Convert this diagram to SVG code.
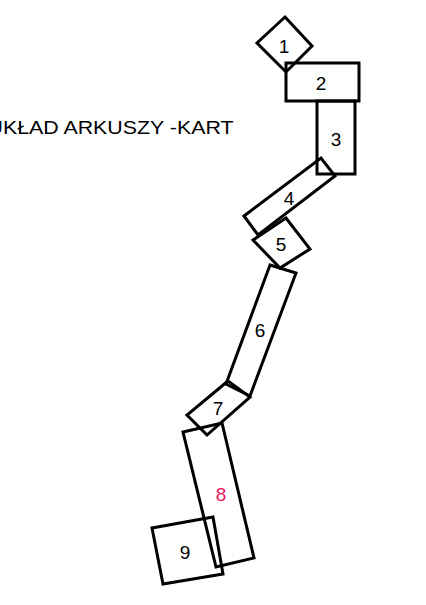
<svg xmlns="http://www.w3.org/2000/svg" width="426" height="605" viewBox="0 0 426 605">
<style>
.s{fill:none;stroke:#000;stroke-width:3;stroke-linejoin:miter}
.t{font-family:"Liberation Sans",Arial,sans-serif;font-size:19px;fill:#000;text-anchor:middle}
.ttl{font-family:"Liberation Sans",Arial,sans-serif;font-size:19px;fill:#000}
</style>
<rect width="426" height="605" fill="#fff"/>
<text class="ttl" x="-12.5" y="134" textLength="246" lengthAdjust="spacingAndGlyphs">UKŁAD ARKUSZY -KART</text>
<g id="n1"><polygon class="s" points="285,17 312,46 286,72 257,43"/><text class="t" x="284" y="53">1</text></g>
<g id="n2"><rect class="s" x="286" y="63" width="73" height="38"/><text class="t" x="321" y="90">2</text></g>
<g id="n3"><rect class="s" x="317" y="101" width="38" height="73"/><text class="t" x="336" y="146">3</text></g>
<g id="n4"><polygon class="s" points="244,216 321,158 335,176 258,235"/><text class="t" x="289" y="205">4</text></g>
<g id="n5"><polygon class="s" points="286,218 310,249 280,268 253,240"/><text class="t" x="281" y="251">5</text></g>
<g id="n6"><polygon class="s" points="270,265 296,273 250,396 226,384"/><text class="t" x="260" y="337">6</text></g>
<g id="n7"><polygon class="s" points="228,381 250,397 207,435 187,415"/><text class="t" x="218" y="415">7</text></g>
<g id="n8"><polygon class="s" points="183,432 222,423 254,558 216,567"/><text class="t" x="221" y="501" style="fill:#e8175d">8</text></g>
<g id="n9"><polygon class="s" points="152,528 213,517 223,574 163,584"/><text class="t" x="185" y="559">9</text></g>
<g id="connectors"></g>
</svg>
